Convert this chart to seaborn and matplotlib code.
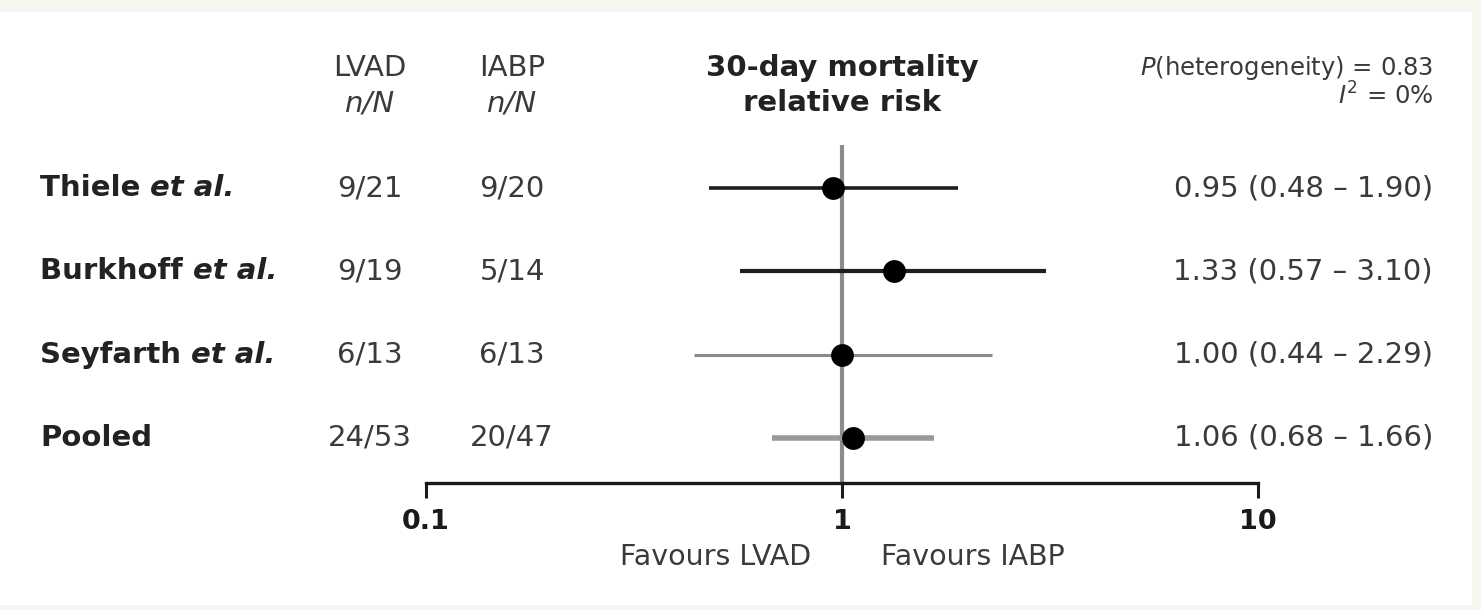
"""
Forest plot: 30-day mortality, LVAD vs IABP.
"""

import numpy as np
import pandas as pd
import seaborn as sns
import matplotlib.pyplot as plt
from matplotlib.transforms import blended_transform_factory
from matplotlib.patches import Rectangle

studies = ['Thiele', 'Burkhoff', 'Seyfarth', 'Pooled']
lvad = ['9/21', '9/19', '6/13', '24/53']
iabp = ['9/20', '5/14', '6/13', '20/47']
rr = [0.95, 1.33, 1.00, 1.06]
lo = [0.48, 0.57, 0.44, 0.68]
hi = [1.90, 3.10, 2.29, 1.66]
line_colors = ['#1e1e1e', '#1e1e1e', '#8a8a8a', '#9a9a9a']
line_widths = [2.6, 3.0, 2.2, 4.0]

data = pd.DataFrame({'study': studies, 'rr': rr, 'lo': lo, 'hi': hi,
                     'row': np.arange(len(studies))})

sns.set_style('white')
plt.rcParams['font.family'] = ['DejaVu Sans']

W, H = 1481, 610
fig = plt.figure(figsize=(W / 100, H / 100), dpi=100)
fig.patch.set_facecolor('#f7f6ee')
fig.patches.append(Rectangle((0 / W, 5 / H), 1472 / W, 593 / H,
                             transform=fig.transFigure, facecolor='white',
                             edgecolor='none', zorder=-10))

ax = fig.add_axes([0, 0, 1, 1])
ax.patch.set_alpha(0)
ax.set_xscale('log')
# 1 at pixel 842, 416 px per decade
ax.set_xlim(10 ** (-842 / 416), 10 ** ((W - 842) / 416))
step = 83.3
ax.set_ylim((H - 188) / step, -188 / step)

# reference line at 1
axis_y = (483 - 188) / step
ax.vlines(1, (145 - 188) / step, axis_y, color='#8c8c8c', lw=3, zorder=1)

# confidence intervals
for i, r in data.iterrows():
    ax.hlines(r['row'], r['lo'], r['hi'], color=line_colors[i],
              lw=line_widths[i], zorder=2)
sns.scatterplot(data=data, x='rr', y='row', ax=ax, color='black', s=270,
                edgecolor='black', linewidth=0, zorder=3, legend=False)

# x axis
for side in ['top', 'right', 'left']:
    ax.spines[side].set_visible(False)
ax.spines['bottom'].set_position(('data', axis_y))
ax.spines['bottom'].set_bounds(0.1, 10)
ax.spines['bottom'].set_linewidth(2.4)
ax.spines['bottom'].set_color('#1a1a1a')
ax.set_xticks([0.1, 1, 10])
ax.set_xticklabels(['0.1', '1', '10'])
ax.minorticks_off()
ax.tick_params(axis='x', which='major', bottom=True, direction='out',
               length=11, width=2.2, color='#1a1a1a', pad=8, labelsize=19.5)
for lab in ax.get_xticklabels():
    lab.set_fontweight('bold')
    lab.set_color('#1a1a1a')
ax.set_yticks([])
ax.set_xlabel('')
ax.set_ylabel('')

tr = blended_transform_factory(ax.transAxes, ax.transData)
fsz = 21
txt = '#3a3a3a'

# row labels and counts
for i, s in enumerate(studies):
    if s == 'Pooled':
        ax.text(40 / W, i, 'Pooled', transform=tr, ha='left', va='center',
                fontsize=fsz, fontweight='bold', color='#222222')
    else:
        t = ax.text(40 / W, i, s + ' ', transform=tr, ha='left', va='center',
                    fontsize=fsz, fontweight='bold', color='#222222')
        fig.canvas.draw()
        bb = t.get_window_extent()
        ax.text(bb.x1 / W, i, 'et al.', transform=tr, ha='left', va='center',
                fontsize=fsz, fontweight='bold', fontstyle='italic',
                color='#222222')
    ax.text(370 / W, i, lvad[i], transform=tr, ha='center', va='center',
            fontsize=fsz, color=txt)
    ax.text(512 / W, i, iabp[i], transform=tr, ha='center', va='center',
            fontsize=fsz, color=txt)
    ax.text(1433 / W, i, f'{rr[i]:.2f} ({lo[i]:.2f} \u2013 {hi[i]:.2f})',
            transform=tr, ha='right', va='center', fontsize=fsz, color=txt)

# headers
ax.text(370 / W, 1 - 68 / H, 'LVAD', transform=ax.transAxes, ha='center',
        va='center', fontsize=fsz, color=txt)
ax.text(370 / W, 1 - 103 / H, 'n/N', transform=ax.transAxes, ha='center',
        va='center', fontsize=fsz, color=txt, fontstyle='italic')
ax.text(512 / W, 1 - 68 / H, 'IABP', transform=ax.transAxes, ha='center',
        va='center', fontsize=fsz, color=txt)
ax.text(512 / W, 1 - 103 / H, 'n/N', transform=ax.transAxes, ha='center',
        va='center', fontsize=fsz, color=txt, fontstyle='italic')
ax.text(842 / W, 1 - 68 / H, '30-day mortality', transform=ax.transAxes,
        ha='center', va='center', fontsize=fsz, fontweight='bold',
        color='#222222')
ax.text(842 / W, 1 - 103 / H, 'relative risk', transform=ax.transAxes,
        ha='center', va='center', fontsize=fsz, fontweight='bold',
        color='#222222')
ax.text(1433 / W, 1 - 68 / H, r'$\it{P}$(heterogeneity) = 0.83',
        transform=ax.transAxes, ha='right', va='center', fontsize=17.5,
        color=txt)
ax.text(1433 / W, 1 - 96 / H, r'$\it{I}^2$ = 0%', transform=ax.transAxes,
        ha='right', va='center', fontsize=17.5, color=txt)

# favours labels
ax.text(716 / W, 1 - 557 / H, 'Favours LVAD', transform=ax.transAxes,
        ha='center', va='center', fontsize=20.5, color=txt)
ax.text(973 / W, 1 - 557 / H, 'Favours IABP', transform=ax.transAxes,
        ha='center', va='center', fontsize=20.5, color=txt)

fig.savefig('out.png', dpi=100, facecolor=fig.get_facecolor())
